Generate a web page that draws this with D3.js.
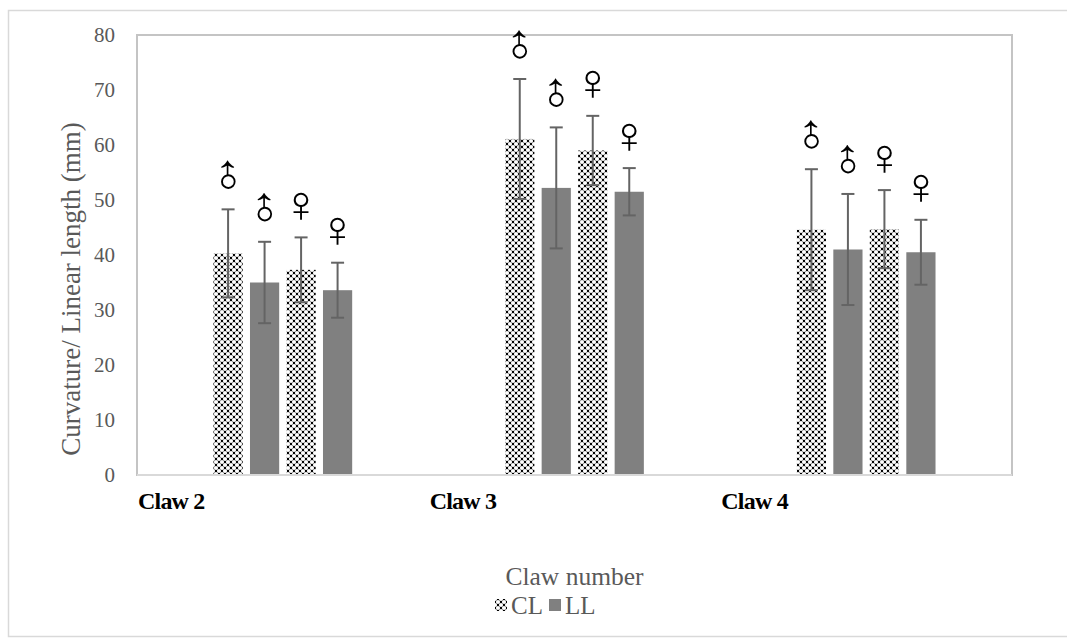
<!DOCTYPE html>
<html>
<head>
<meta charset="utf-8">
<script src="https://cdn.jsdelivr.net/npm/d3@7"></script>
<style>
  body { margin: 0; background: #fff; }
</style>
</head>
<body>
<div id="wrapper"></div>
<script>
/*global d3*/

const categories = ["Claw 2", "Claw 3", "Claw 4"]
const seriesNames = ["CL male", "LL male", "CL female", "LL female"]
const seriesSymbols = ["♂", "♂", "♀", "♀"]
const seriesTypes = ["CL", "LL", "CL", "LL"]

const clMale = [40.3, 61.1, 44.6]
const llMale = [35.0, 52.2, 41.0]
const clFemale = [37.3, 59.0, 44.7]
const llFemale = [33.6, 51.5, 40.5]

const clMaleSd = [8.0, 10.9, 11.0]
const llMaleSd = [7.4, 11.0, 10.1]
const clFemaleSd = [5.9, 6.3, 7.1]
const llFemaleSd = [5.0, 4.3, 5.9]

const yTicks = [0, 10, 20, 30, 40, 50, 60, 70, 80]
const legendItems = ["CL", "LL"]

const means = [clMale, llMale, clFemale, llFemale]
const sds = [clMaleSd, llMaleSd, clFemaleSd, llFemaleSd]

const rows = []
categories.forEach((c, ci) => {
    seriesNames.forEach((s, si) => {
        rows.push({
            category: c,
            series: s,
            symbol: seriesSymbols[si],
            type: seriesTypes[si],
            mean: means[si][ci],
            sd: sds[si][ci],
        })
    })
})

const dims = {
    width: 1067,
    height: 643,
    left: 137,
    right: 1012,
    top: 35,
    bottom: 475,
}

const serif = "'Liberation Serif', 'Times New Roman', serif"

const svg = d3.select("#wrapper")
    .append("svg")
    .attr("width", dims.width)
    .attr("height", dims.height)

const defs = svg.append("defs")
const pat = defs.append("pattern")
    .attr("id", "confetti")
    .attr("patternUnits", "userSpaceOnUse")
    .attr("width", 6)
    .attr("height", 6)
pat.append("rect").attr("width", 6).attr("height", 6).attr("fill", "#000")
;[[0, 0], [6, 0], [0, 6], [6, 6], [3, 3]].forEach(([cx, cy]) => {
    pat.append("circle").attr("cx", cx).attr("cy", cy).attr("r", 2.1).attr("fill", "#fff")
})

const fillFor = t => t === "CL" ? "url(#confetti)" : "#808080"

// outer chart border
svg.append("rect")
    .attr("x", 8.5)
    .attr("y", 10.5)
    .attr("width", 1080)
    .attr("height", 626)
    .attr("fill", "none")
    .attr("stroke", "#d9d9d9")
    .attr("stroke-width", 1.5)

const xScale = d3.scaleBand()
    .domain(categories)
    .range([dims.left, dims.right])
    .padding(0)

const innerWidth = 146
const xInner = d3.scaleBand()
    .domain(seriesNames)
    .range([0, innerWidth])
    .paddingInner(0.2)
    .paddingOuter(0.1)

const yScale = d3.scaleLinear()
    .domain([0, 80])
    .range([dims.bottom, dims.top])

const barX = d => xScale(d.category) + xScale.bandwidth() / 2 - innerWidth / 2 + xInner(d.series)
const barCx = d => barX(d) + xInner.bandwidth() / 2

// plot area frame
svg.append("rect")
    .attr("x", dims.left)
    .attr("y", dims.top)
    .attr("width", dims.right - dims.left)
    .attr("height", dims.bottom - dims.top)
    .attr("fill", "none")
    .attr("stroke", "#c4c4c4")
    .attr("stroke-width", 2)

// y tick labels
const yAxis = svg.append("g")
    .attr("transform", `translate(${dims.left}, 0)`)
    .call(d3.axisLeft(yScale).tickValues(yTicks).tickSize(0).tickPadding(22))
yAxis.select(".domain").remove()
yAxis.selectAll("text")
    .style("font-family", serif)
    .style("font-size", "21px")
    .attr("fill", "#595959")

// bars
const bars = svg.append("g")
bars.selectAll("rect")
    .data(rows)
    .join("rect")
    .attr("x", barX)
    .attr("width", xInner.bandwidth())
    .attr("y", d => yScale(d.mean))
    .attr("height", d => yScale(0) - yScale(d.mean))
    .attr("fill", d => fillFor(d.type))

// bottom axis line
svg.append("line")
    .attr("x1", dims.left)
    .attr("x2", dims.right)
    .attr("y1", dims.bottom)
    .attr("y2", dims.bottom)
    .attr("stroke", "#d9d9d9")
    .attr("stroke-width", 2)

// error bars
const errColor = "#646464"
const errs = svg.append("g")
    .attr("stroke", errColor)
    .attr("stroke-width", 2)
errs.selectAll("line.stem")
    .data(rows)
    .join("line")
    .attr("class", "stem")
    .attr("x1", barCx)
    .attr("x2", barCx)
    .attr("y1", d => yScale(d.mean + d.sd))
    .attr("y2", d => yScale(d.mean - d.sd))
;["top", "bot"].forEach(k => {
    errs.selectAll(`line.${k}`)
        .data(rows)
        .join("line")
        .attr("class", k)
        .attr("x1", d => barCx(d) - 6.5)
        .attr("x2", d => barCx(d) + 6.5)
        .attr("y1", d => yScale(k === "top" ? d.mean + d.sd : d.mean - d.sd))
        .attr("y2", d => yScale(k === "top" ? d.mean + d.sd : d.mean - d.sd))
})

// sex symbols
svg.append("g")
    .selectAll("text")
    .data(rows)
    .join("text")
    .attr("transform", d => `translate(${barCx(d)}, ${yScale(d.mean + d.sd) - 33}) rotate(${d.symbol === "♂" ? -45 : 0})`)
    .attr("text-anchor", "middle")
    .attr("dominant-baseline", "central")
    .style("font-family", serif)
    .style("font-size", "52px")
    .attr("fill", "#000")
    .text(d => d.symbol)

// category labels
svg.append("g")
    .selectAll("text")
    .data(categories)
    .join("text")
    .attr("x", d => xScale(d) + 1)
    .attr("y", 509)
    .style("font-family", serif)
    .style("font-size", "24px")
    .style("font-weight", "bold")
    .style("letter-spacing", "-0.8px")
    .attr("fill", "#000")
    .text(d => d)

// axis titles
svg.append("text")
    .attr("transform", `translate(80, 289) rotate(-90)`)
    .attr("text-anchor", "middle")
    .style("font-family", serif)
    .style("font-size", "27px")
    .attr("fill", "#595959")
    .text("Curvature/ Linear length (mm)")

svg.append("text")
    .attr("x", (dims.left + dims.right) / 2)
    .attr("y", 585)
    .attr("text-anchor", "middle")
    .style("font-family", serif)
    .style("font-size", "25.5px")
    .attr("fill", "#595959")
    .text("Claw number")

// legend
const legend = svg.append("g")
    .attr("transform", "translate(495, 605)")
const legendPos = [0, 54]
legendItems.forEach((item, i) => {
    const g = legend.append("g").attr("transform", `translate(${legendPos[i]}, 0)`)
    g.append("rect")
        .attr("x", 0)
        .attr("y", -6)
        .attr("width", 12)
        .attr("height", 12)
        .attr("fill", fillFor(item))
    g.append("text")
        .attr("x", 16)
        .attr("y", 9)
        .style("font-family", serif)
        .style("font-size", "25px")
        .attr("fill", "#595959")
        .text(item)
})
</script>
</body>
</html>
